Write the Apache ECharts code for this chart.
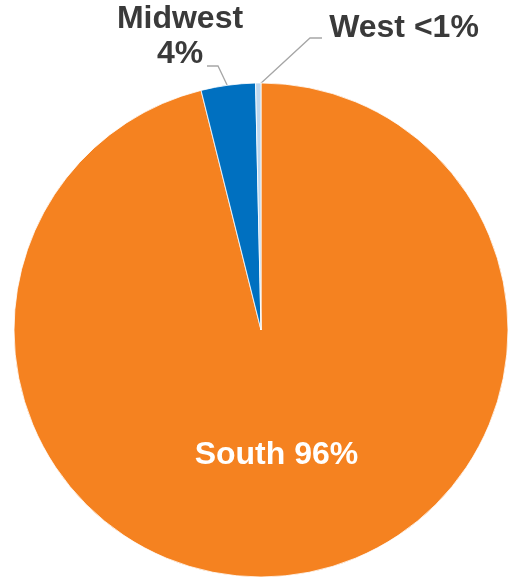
<!DOCTYPE html>
<html><head><meta charset="utf-8">
<script src="https://cdn.jsdelivr.net/npm/echarts@6/dist/echarts.min.js"></script>
<style>html,body{margin:0;padding:0;background:#fff}#c{width:512px;height:577px}</style>
</head><body><div id="c"></div>
<script>
var regions = ['South', 'Midwest', 'West'];
var shares = [96.1, 3.55, 0.35];
var labels = ['South 96%', 'Midwest\n4%', 'West <1%'];
var colors = ['#F58220', '#0070C0', '#BDD7EE'];

var chart = echarts.init(document.getElementById('c'));
var data = regions.map(function (r, i) {
  var d = { name: r, value: shares[i], itemStyle: { color: colors[i] } };
  if (i === 0) {
    d.label = { position: 'inside', color: '#fff' };
  } else {
    d.label = { position: 'outside', color: '#3A3A3A' };
  }
  return d;
});
chart.setOption({
  animation: false,
  series: [{
    type: 'pie',
    center: [261, 330],
    radius: 247,
    startAngle: 90,
    clockwise: true,
    data: data,
    itemStyle: { borderColor: '#fff', borderWidth: 0.8 },
    label: {
      fontFamily: 'Liberation Sans, Arial, sans-serif',
      fontWeight: 'bold',
      fontSize: 32,
      lineHeight: 35,
      align: 'center',
      overflow: 'none',
      formatter: function (p) { return labels[p.dataIndex]; }
    },
    labelLine: { show: true, lineStyle: { color: '#A6A6A6', width: 1.3 }, length: 10, length2: 10 },
    labelLayout: function (p) {
      if (p.dataIndex === 1) {
        return { x: 180, y: 37, align: 'center', verticalAlign: 'middle',
          labelLinePoints: [[229, 89], [218, 66], [207, 66]] };
      }
      if (p.dataIndex === 2) {
        return { x: 404, y: 28, align: 'center', verticalAlign: 'middle',
          labelLinePoints: [[259, 85], [310, 38], [322, 38]] };
      }
      return {};
    }
  }]
});
</script></body></html>
